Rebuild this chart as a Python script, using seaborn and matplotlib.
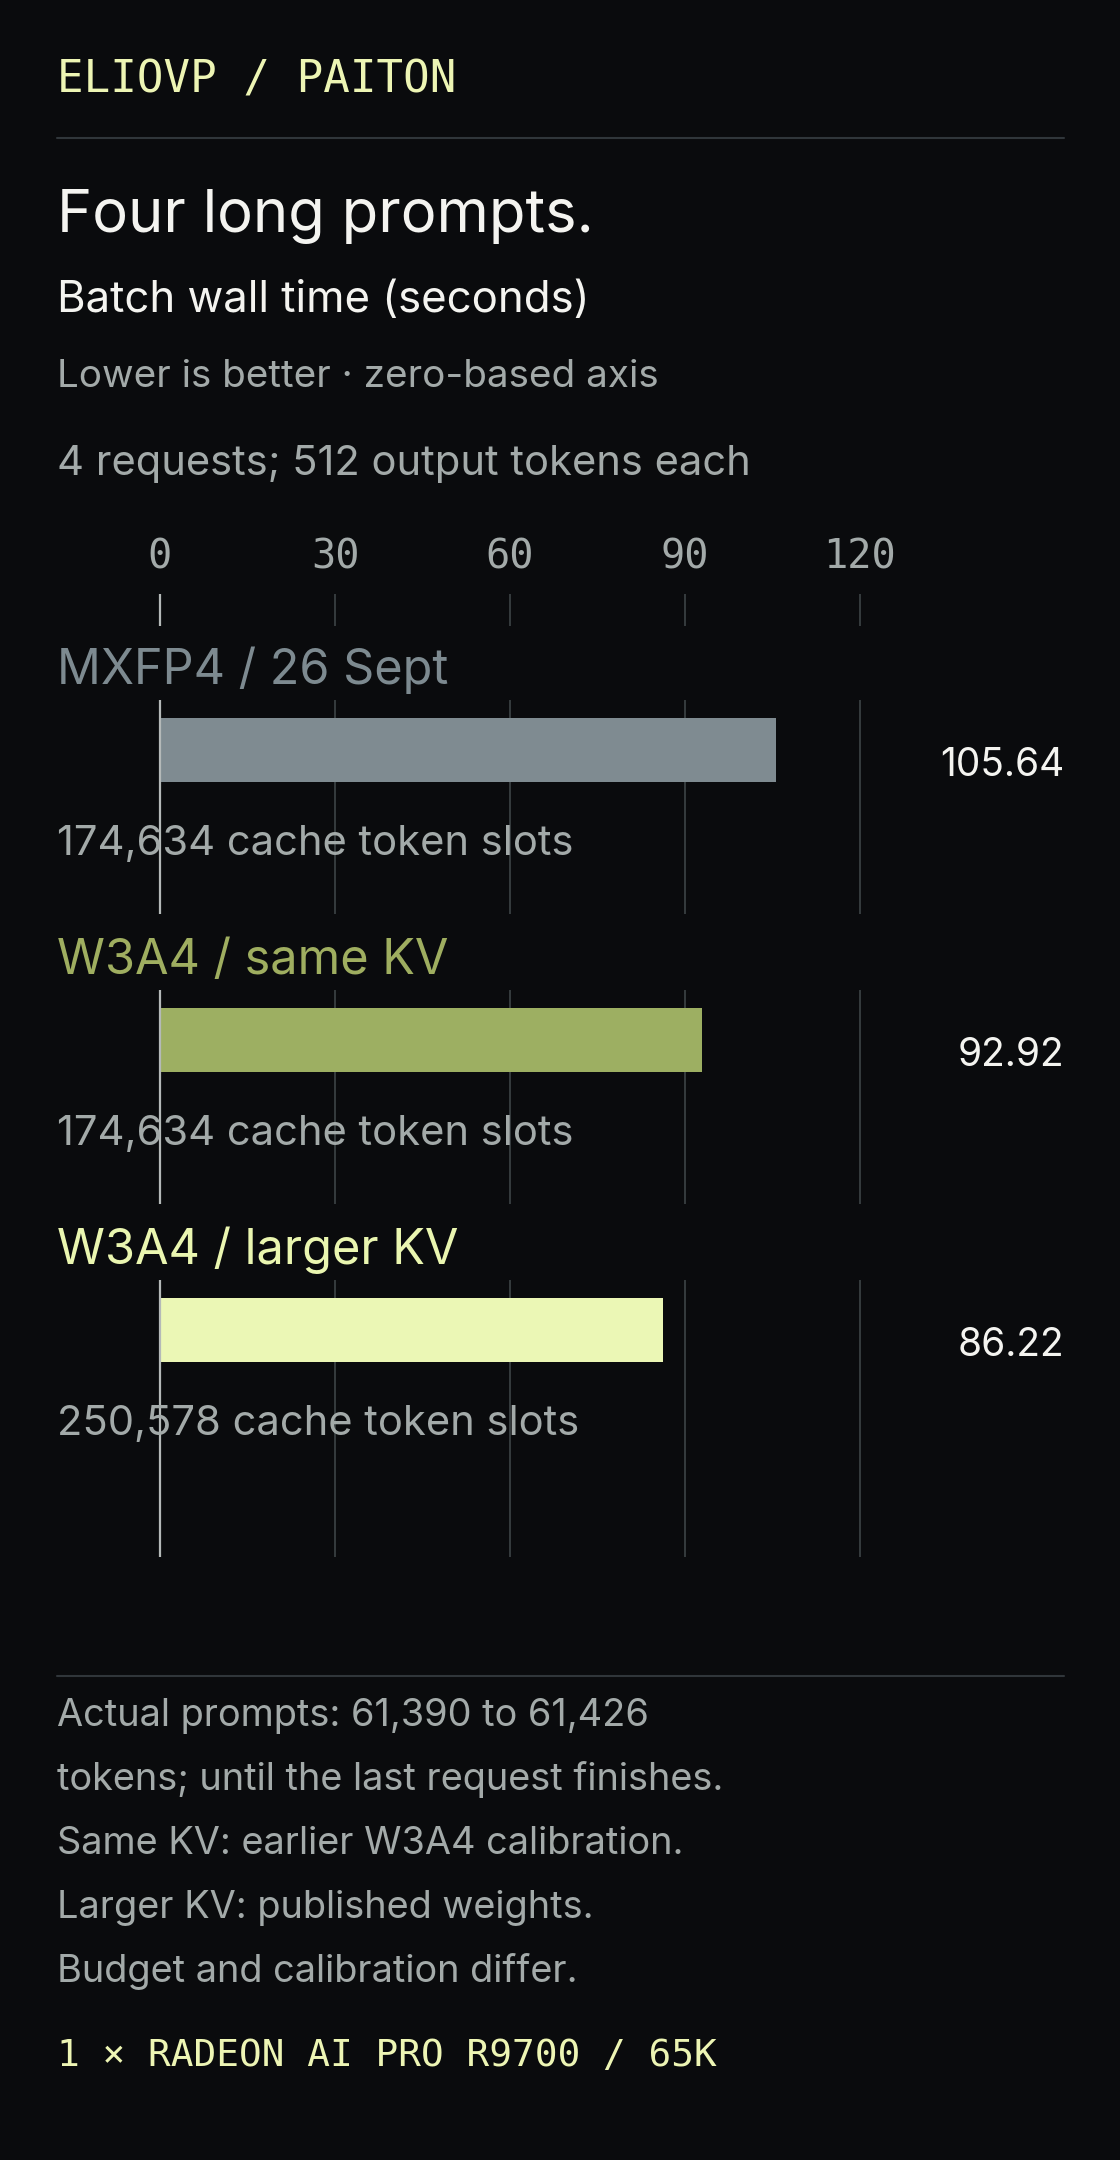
import matplotlib
matplotlib.use("Agg")
import matplotlib.pyplot as plt
import matplotlib.transforms as mtransforms
import seaborn as sns
import pandas as pd

# data
configs = ["MXFP4 / 26 Sept", "W3A4 / same KV", "W3A4 / larger KV"]
wall_time = [105.64, 92.92, 86.22]
cache_slots = ["174,634 cache token slots", "174,634 cache token slots", "250,578 cache token slots"]
ticks = [0, 30, 60, 90, 120]
notes = [
    "Actual prompts: 61,390 to 61,426",
    "tokens; until the last request finishes.",
    "Same KV: earlier W3A4 calibration.",
    "Larger KV: published weights.",
    "Budget and calibration differ.",
]

bg = "#0a0b0d"
bar_colors = ["#7f8b91", "#9daf62", "#ebf7b5"]
label_colors = ["#7d8a90", "#9fae60", "#eaf6b0"]
gray = "#a3aaa9"
yellow = "#edf5b4"
sans = ["Inter", "DejaVu Sans"]
mono = ["DejaVu Sans Mono"]

sns.set_theme(style="white")
plt.rcParams["font.family"] = sans

W, H = 1120, 2160
fig = plt.figure(figsize=(W / 100, H / 100), dpi=100, facecolor=bg)


def fy(px):
    return 1 - px / H


def fx(px):
    return px / W


def ftext(x, y, s, **kw):
    fig.text(fx(x), fy(y), s, va="baseline", **kw)


# header
ftext(57, 93, "ELIOVP / PAITON", family=mono, size=31.8, color=yellow)
fig.add_artist(plt.Line2D([fx(57), fx(1064)], [fy(137.5), fy(137.5)], color="#30363a", lw=1.5))
ftext(57, 232, "Four long prompts.", size=43, color="#f4f4f0")
ftext(57, 312, "Batch wall time (seconds)", size=31.5, color="#f4f4f0")
ftext(57, 387, "Lower is better · zero-based axis", size=27.8, color=gray)
ftext(57, 475, "4 requests; 512 output tokens each", size=30, color=gray)

# bar chart
top_px, bot_px, gap = 594, 1557, 290
c0 = 750
ax = fig.add_axes([fx(160), fy(bot_px), fx(700), (bot_px - top_px) / H])
ax.set_facecolor(bg)
df = pd.DataFrame({"config": configs, "time": wall_time})
sns.barplot(data=df, x="time", y="config", hue="config", palette=bar_colors,
            orient="h", width=64 / gap, legend=False, saturation=1,
            linewidth=0, edgecolor="none", ax=ax, zorder=3)
ax.set_xlim(0, 120)
ax.set_ylim((bot_px - c0) / gap, (top_px - c0) / gap)
for s in ax.spines.values():
    s.set_visible(False)
ax.set_xlabel("")
ax.set_ylabel("")
ax.set_yticks([])
ax.xaxis.tick_top()
ax.set_xticks(ticks)
ax.set_xticklabels([str(t) for t in ticks], family=mono, size=29, color=gray)
ax.tick_params(axis="x", length=0, pad=12)

# broken gridlines
y_top = (top_px - c0) / gap
segs = [(y_top, (626 - c0) / gap)]
for i in range(len(configs)):
    lo = i + (700 - c0) / gap
    hi = i + (914 - c0) / gap if i < len(configs) - 1 else (bot_px - c0) / gap
    segs.append((lo, hi))
for a, b in segs:
    ax.vlines(ticks[1:], a, b, color="#363c3e", lw=1.4, zorder=1, clip_on=False)
    ax.vlines(ticks[0], a, b, color="#b4b9b8", lw=1.6, zorder=4, clip_on=False)

tr = mtransforms.blended_transform_factory(fig.transFigure, ax.transData)
for i, (name, val, slots) in enumerate(zip(configs, wall_time, cache_slots)):
    ax.text(fx(57), i + (684 - c0) / gap, name, transform=tr, size=35,
            color=label_colors[i], va="baseline", clip_on=False)
    ax.text(fx(57), i + (855 - c0) / gap, slots, transform=tr, size=30,
            color=gray, va="baseline", clip_on=False, zorder=5)
    ax.text(fx(1064), i + (776 - c0) / gap, f"{val:.2f}", transform=tr, size=28,
            color="#f4f4f0", va="baseline", ha="right", clip_on=False)

# footer
fig.add_artist(plt.Line2D([fx(57), fx(1064)], [fy(1676), fy(1676)], color="#30363a", lw=1.5))
for k, line in enumerate(notes):
    ftext(57, 1726 + 64 * k, line, size=27.3, color=gray)
ftext(57, 2066, "1 × RADEON AI PRO R9700 / 65K", family=mono, size=27.2, color=yellow)

fig.savefig("out.png", dpi=100, facecolor=bg)
